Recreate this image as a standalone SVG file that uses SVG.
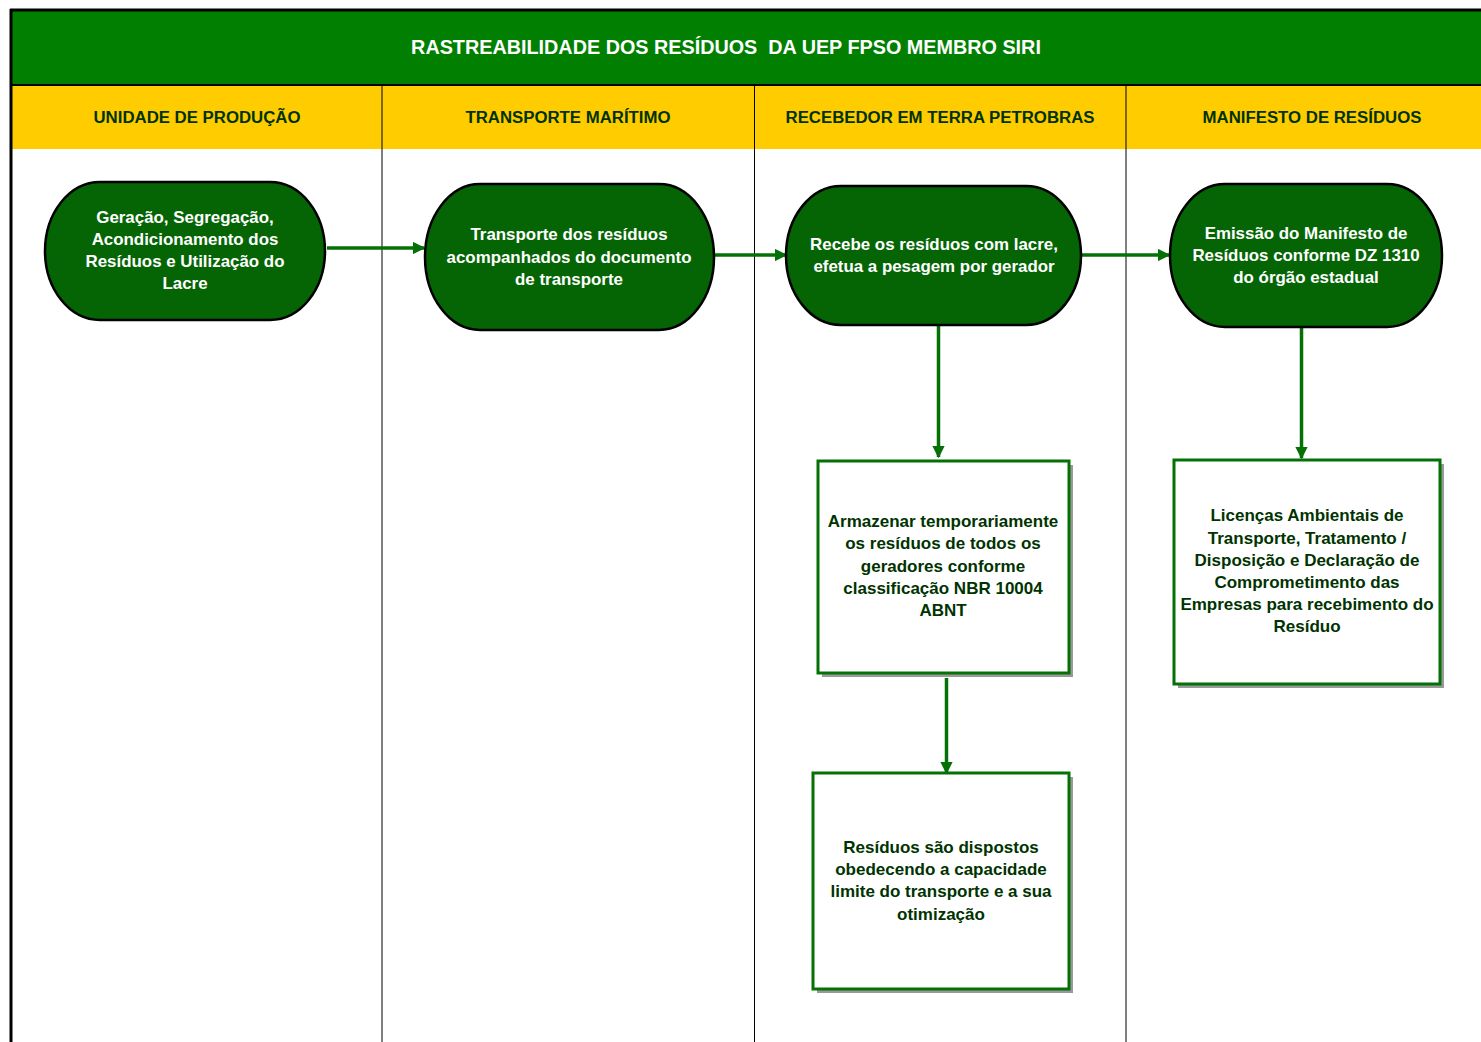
<svg xmlns="http://www.w3.org/2000/svg" width="1481" height="1042" viewBox="0 0 1481 1042">
<style>
.title{font-family:"Liberation Sans",Arial,sans-serif;font-weight:bold;font-size:19.8px;fill:#ffffff;text-anchor:middle;white-space:pre}
.lane{font-family:"Liberation Sans",Arial,sans-serif;font-weight:bold;font-size:16.8px;fill:#003300;text-anchor:middle}
.nt{font-family:"Liberation Sans",Arial,sans-serif;font-weight:bold;font-size:16.9px;fill:#ffffff;text-anchor:middle}
.bt{font-family:"Liberation Sans",Arial,sans-serif;font-weight:bold;font-size:17px;fill:#003300;text-anchor:middle}
.term{fill:#056505;stroke:#000;stroke-width:2.5}
.box{fill:#fff;stroke:#057005;stroke-width:3}
.shadow{fill:#999}
.conn{stroke:#057005;stroke-width:3.5;fill:none}
.div{stroke:#000;stroke-width:1}
</style>
<defs>
<marker id="ah" viewBox="0 0 10 10" refX="9" refY="5" markerWidth="3.6" markerHeight="3.6" orient="auto" markerUnits="strokeWidth">
<path d="M0,0 L10,5 L0,10 z" fill="#057005"/>
</marker>
</defs>
<rect width="1481" height="1042" fill="#fff"/>
<g id="frame">
<rect x="11" y="10" width="1470" height="74" fill="#007f00"/>
<rect x="11" y="86" width="1470" height="63" fill="#ffcc00"/>
<line x1="10" y1="10" x2="1481" y2="10" stroke="#000" stroke-width="3"/>
<line x1="11" y1="85" x2="1481" y2="85" stroke="#000" stroke-width="2"/>
<line x1="11" y1="9" x2="11" y2="1042" stroke="#000" stroke-width="3"/>
<line class="div" x1="382" y1="85" x2="382" y2="1042"/>
<line class="div" x1="754.5" y1="85" x2="754.5" y2="1042"/>
<line class="div" x1="1126" y1="85" x2="1126" y2="1042"/>
<text class="title" x="726" y="54" xml:space="preserve">RASTREABILIDADE DOS RESÍDUOS  DA UEP FPSO MEMBRO SIRI</text>
<text class="lane" x="197" y="123">UNIDADE DE PRODUÇÃO</text>
<text class="lane" x="568" y="123">TRANSPORTE MARÍTIMO</text>
<text class="lane" x="940" y="123">RECEBEDOR EM TERRA PETROBRAS</text>
<text class="lane" x="1312" y="123">MANIFESTO DE RESÍDUOS</text>
</g>
<g id="connectors">
<line class="conn" x1="327" y1="248" x2="424" y2="248" marker-end="url(#ah)"/>
<line class="conn" x1="714" y1="255" x2="786" y2="255" marker-end="url(#ah)"/>
<line class="conn" x1="1081" y1="255" x2="1169" y2="255" marker-end="url(#ah)"/>
<line class="conn" x1="938.5" y1="326" x2="938.5" y2="457" marker-end="url(#ah)"/>
<line class="conn" x1="946.5" y1="678" x2="946.5" y2="773" marker-end="url(#ah)"/>
<line class="conn" x1="1301.5" y1="328" x2="1301.5" y2="458" marker-end="url(#ah)"/>
</g>
<g id="n1">
<rect class="term" x="45" y="182" width="280" height="138" rx="55" ry="69"/>
<text class="nt" x="185" y="223">Geração, Segregação,</text>
<text class="nt" x="185" y="245">Acondicionamento dos</text>
<text class="nt" x="185" y="267">Resíduos e Utilização do</text>
<text class="nt" x="185" y="289">Lacre</text>
</g>
<g id="n2">
<rect class="term" x="425" y="184" width="289" height="146" rx="55" ry="73"/>
<text class="nt" x="569" y="240">Transporte dos resíduos</text>
<text class="nt" x="569" y="263">acompanhados do documento</text>
<text class="nt" x="569" y="285">de transporte</text>
</g>
<g id="n3">
<rect class="term" x="786" y="186" width="295" height="139" rx="55" ry="69.5"/>
<text class="nt" x="934" y="250">Recebe os resíduos com lacre,</text>
<text class="nt" x="934" y="272">efetua a pesagem por gerador</text>
</g>
<g id="n4">
<rect class="term" x="1170" y="184" width="272" height="143" rx="55" ry="71.5"/>
<text class="nt" x="1306" y="239">Emissão do Manifesto de</text>
<text class="nt" x="1306" y="261">Resíduos conforme DZ 1310</text>
<text class="nt" x="1306" y="283">do órgão estadual</text>
</g>
<g id="b1">
<rect class="shadow" x="822" y="465" width="251" height="212"/>
<rect class="box" x="818" y="461" width="251" height="212"/>
<text class="bt" x="943" y="527">Armazenar temporariamente</text>
<text class="bt" x="943" y="549">os resíduos de todos os</text>
<text class="bt" x="943" y="572">geradores conforme</text>
<text class="bt" x="943" y="594">classificação NBR 10004</text>
<text class="bt" x="943" y="616">ABNT</text>
</g>
<g id="b2">
<rect class="shadow" x="817" y="777" width="256" height="216"/>
<rect class="box" x="813" y="773" width="256" height="216"/>
<text class="bt" x="941" y="853">Resíduos são dispostos</text>
<text class="bt" x="941" y="875">obedecendo a capacidade</text>
<text class="bt" x="941" y="897">limite do transporte e a sua</text>
<text class="bt" x="941" y="920">otimização</text>
</g>
<g id="b3">
<rect class="shadow" x="1178" y="464" width="266" height="224"/>
<rect class="box" x="1174" y="460" width="266" height="224"/>
<text class="bt" x="1307" y="521">Licenças Ambientais de</text>
<text class="bt" x="1307" y="544">Transporte, Tratamento /</text>
<text class="bt" x="1307" y="566">Disposição e Declaração de</text>
<text class="bt" x="1307" y="588">Comprometimento das</text>
<text class="bt" x="1307" y="610">Empresas para recebimento do</text>
<text class="bt" x="1307" y="632">Resíduo</text>
</g>
</svg>
